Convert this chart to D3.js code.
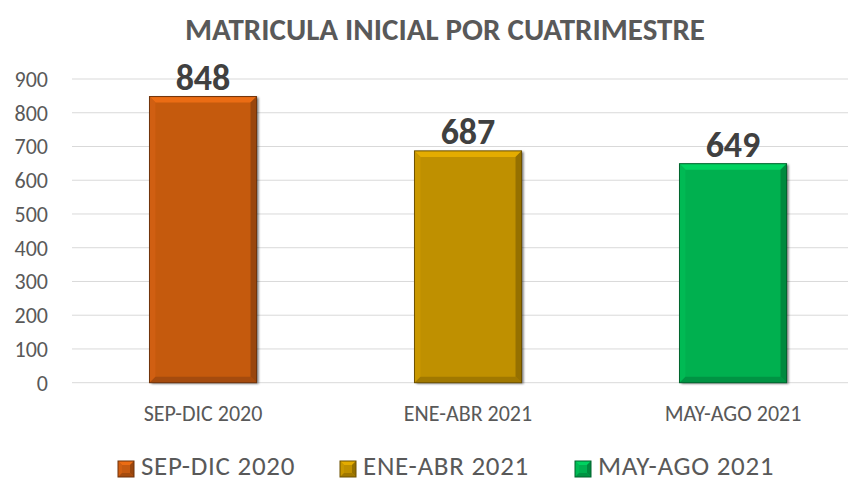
<!DOCTYPE html>
<html><head><meta charset="utf-8">
<script src="https://cdn.jsdelivr.net/npm/d3@7"></script>
<style>body{margin:0;background:#fff}svg{display:block}</style>
</head><body>
<svg id="c" width="852" height="483"></svg>
<script>
const categories = ["SEP-DIC 2020", "ENE-ABR 2021", "MAY-AGO 2021"];
const values = [848, 687, 649];
const colors = ["#C55A11", "#BF9000", "#00B050"];
const yTicks = [0, 100, 200, 300, 400, 500, 600, 700, 800, 900];
const title = "MATRICULA INICIAL POR CUATRIMESTRE";

const svg = d3.select("#c");
const font = "Carlito, Calibri, Lato, 'Open Sans', sans-serif";
const x = d3.scaleBand().domain(categories).range([70.5, 865.5]).paddingInner(0.596).paddingOuter(0.298);
const y = d3.scaleLinear().domain([0, 900]).range([382.7, 79]);

svg.append("text").attr("x", 445).attr("y", 40).attr("text-anchor", "middle")
  .attr("font-family", font).attr("font-weight", "bold").attr("font-size", 31).attr("fill", "#595959").text(title);

// gridlines
svg.append("g").selectAll("line").data(yTicks).join("line")
  .attr("x1", 72).attr("x2", 848).attr("y1", d => y(d)).attr("y2", d => y(d))
  .attr("stroke", "#d9d9d9").attr("stroke-width", 1);

// y labels
svg.append("g").selectAll("text").data(yTicks).join("text")
  .attr("x", 48).attr("y", d => y(d) + 8).attr("text-anchor", "end")
  .attr("font-family", font).attr("font-size", 22).attr("fill", "#595959").text(d => d);

const defs = svg.append("defs");
const f = defs.append("filter").attr("id", "sh").attr("x", "-20%").attr("y", "-20%").attr("width", "140%").attr("height", "140%");
f.append("feDropShadow").attr("dx", 2).attr("dy", 1).attr("stdDeviation", 1.2).attr("flood-color", "#000").attr("flood-opacity", 0.55);

function bevel(g, x0, y0, w, h, col, b, shadow) {
  const c = d3.color(col);
  const r = g.append("rect").attr("x", x0).attr("y", y0).attr("width", w).attr("height", h).attr("fill", col);
  if (shadow) r.attr("filter", "url(#sh)");
  const x1 = x0 + w, y1 = y0 + h;
  const poly = (pts, fill) => g.append("polygon").attr("points", pts.map(p => p.join(",")).join(" ")).attr("fill", fill);
  poly([[x0, y0], [x1, y0], [x1 - b, y0 + b], [x0 + b, y0 + b]], c.brighter(0.5));
  poly([[x0, y0], [x0 + b, y0 + b], [x0 + b, y1 - b], [x0, y1]], c.brighter(0.15));
  poly([[x1, y0], [x1, y1], [x1 - b, y1 - b], [x1 - b, y0 + b]], c.darker(0.7));
  poly([[x0, y1], [x0 + b, y1 - b], [x1 - b, y1 - b], [x1, y1]], c.darker(0.5));
  g.append("rect").attr("x", x0).attr("y", y0).attr("width", w).attr("height", h).attr("fill", "none").attr("stroke", c.darker(1.6)).attr("stroke-width", 1);
}

categories.forEach((cat, i) => {
  const g = svg.append("g");
  bevel(g, x(cat), y(values[i]), x.bandwidth(), y(0) - y(values[i]), colors[i], 6, true);
  svg.append("text").attr("x", x(cat) + x.bandwidth() / 2).attr("y", y(values[i]) - 7).attr("text-anchor", "middle")
    .attr("font-family", font).attr("font-weight", "bold").attr("font-size", 36).attr("fill", "#404040").text(values[i]);
  svg.append("text").attr("x", x(cat) + x.bandwidth() / 2).attr("y", 421).attr("text-anchor", "middle")
    .attr("font-family", font).attr("font-size", 22).attr("fill", "#595959").text(cat);
});

// legend
const legX = [118, 340, 575];
categories.forEach((cat, i) => {
  const g = svg.append("g");
  bevel(g, legX[i], 461, 16, 16, colors[i], 4, false);
  svg.append("text").attr("x", legX[i] + 23).attr("y", 475).attr("font-family", font).attr("font-size", 27)
    .attr("letter-spacing", 0.7).attr("fill", "#595959").text(cat);
});
</script>
</body></html>
